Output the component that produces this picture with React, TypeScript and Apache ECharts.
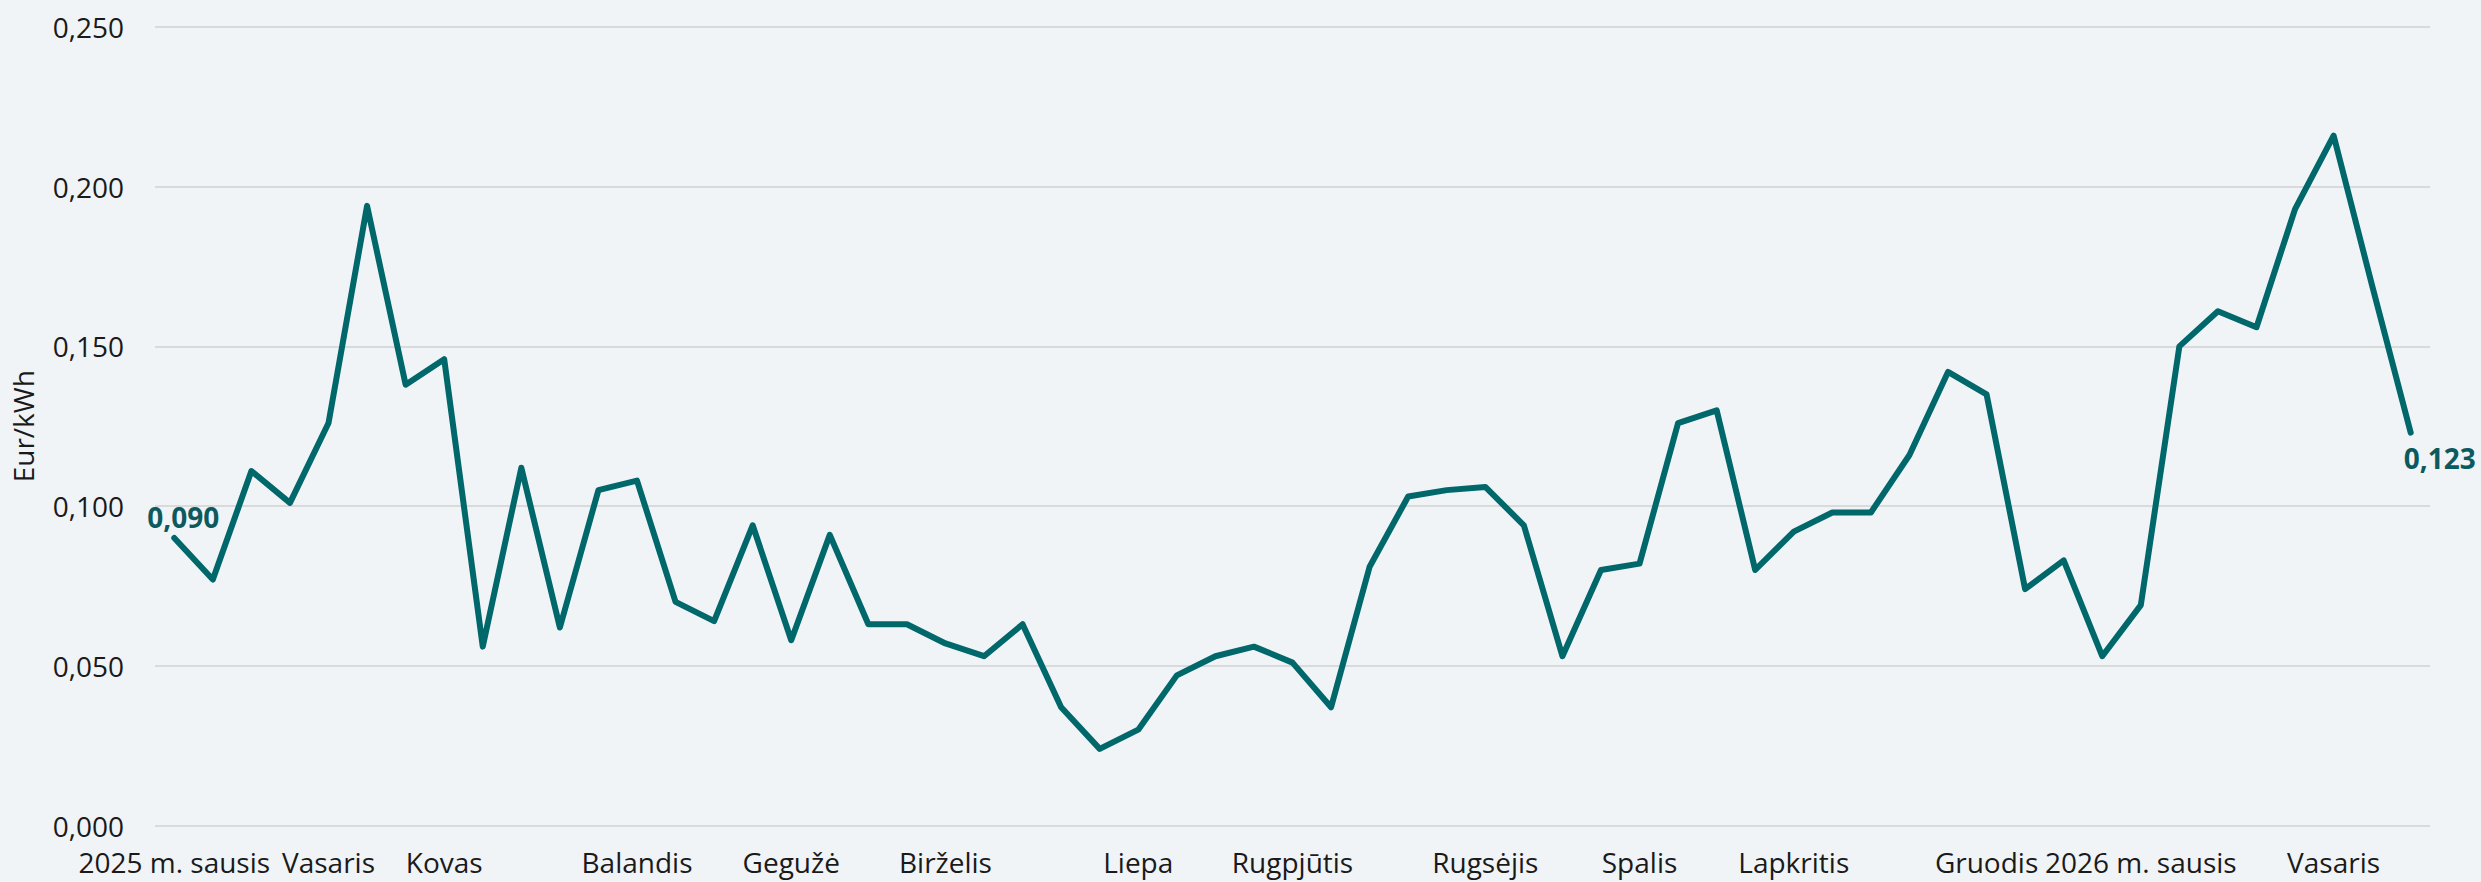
import React, { useEffect, useRef } from "react";
import * as echarts from "echarts";

// Weekly prices, 2025 m. sausis … 2026 m. vasaris (Eur/kWh)
const prices: number[] = [
  0.090, 0.077, 0.111, 0.101, 0.126, 0.194, 0.138, 0.146, 0.056, 0.112,
  0.062, 0.105, 0.108, 0.070, 0.064, 0.094, 0.058, 0.091, 0.063, 0.063,
  0.057, 0.053, 0.063, 0.037, 0.024, 0.030, 0.047, 0.053, 0.056, 0.051,
  0.037, 0.081, 0.103, 0.105, 0.106, 0.094, 0.053, 0.080, 0.082, 0.126,
  0.130, 0.080, 0.092, 0.098, 0.098, 0.116, 0.142, 0.135, 0.074, 0.083,
  0.053, 0.069, 0.150, 0.161, 0.156, 0.193, 0.216, 0.169, 0.123,
];

// Month names and the week index where each month's label sits
const monthLabels: string[] = [
  "2025 m. sausis", "Vasaris", "Kovas", "Balandis", "Gegužė", "Birželis",
  "Liepa", "Rugpjūtis", "Rugsėjis", "Spalis", "Lapkritis", "Gruodis",
  "2026 m. sausis", "Vasaris",
];
const monthFirstWeek: number[] = [0, 4, 7, 12, 16, 20, 25, 29, 34, 38, 42, 47, 51, 56];

const yTicks = { min: 0, max: 0.25, interval: 0.05 };

const FONT = "'Open Sans', 'Noto Sans', sans-serif";
const LINE = "#00676a";
const LABEL = "#0d5a5e";

export default function App() {
  const ref = useRef<HTMLDivElement>(null);
  useEffect(() => {
    document.body.style.margin = "0";
    if (!ref.current) return;
    const chart = echarts.init(ref.current, undefined, { renderer: "svg" });
    const categories = prices.map((_, i) => {
      const k = monthFirstWeek.indexOf(i);
      return k >= 0 ? monthLabels[k] : "";
    });
    const last = prices.length - 1;
    const data = prices.map((v, i) => {
      if (i === 0) {
        return {
          value: v,
          label: { show: true, position: "top", offset: [9, -2] },
        };
      }
      if (i === last) {
        return {
          value: v,
          label: { show: true, position: "bottom", offset: [29, 6] },
        };
      }
      return v;
    });
    chart.setOption({
      animation: false,
      backgroundColor: "#f0f4f7",
      grid: { left: 155, right: 51, top: 27, bottom: 56.5, containLabel: false },
      xAxis: {
        type: "category",
        data: categories,
        boundaryGap: true,
        axisLine: { show: false },
        axisTick: { show: false },
        axisLabel: {
          interval: (idx: number) => monthFirstWeek.indexOf(idx) >= 0,
          color: "#1a1a1a",
          fontFamily: FONT,
          fontSize: 28,
          margin: 22,
          hideOverlap: false,
        },
        splitLine: { show: false },
      },
      yAxis: {
        type: "value",
        min: yTicks.min,
        max: yTicks.max,
        interval: yTicks.interval,
        name: "Eur/kWh",
        nameLocation: "middle",
        nameRotate: 90,
        nameGap: 118,
        nameTextStyle: { color: "#1a1a1a", fontFamily: FONT, fontSize: 28 },
        axisLine: { show: false },
        axisTick: { show: false },
        axisLabel: {
          color: "#1a1a1a",
          fontFamily: FONT,
          fontSize: 28,
          margin: 31,
          formatter: (v: number) => v.toFixed(3).replace(".", ","),
        },
        splitLine: { lineStyle: { color: "#d9dadb", width: 2 } },
      },
      series: [
        {
          type: "line",
          data,
          showSymbol: true,
          symbol: "circle",
          symbolSize: 0.01,
          lineStyle: { color: LINE, width: 6, join: "round", cap: "round" },
          itemStyle: { color: LINE },
          label: {
            show: false,
            color: LABEL,
            fontFamily: FONT,
            fontSize: 28,
            fontWeight: "bold",
            formatter: (p: any) => Number(p.value).toFixed(3).replace(".", ","),
          },
        },
      ],
    });
    return () => chart.dispose();
  }, []);
  return (
    <div
      ref={ref}
      style={{ position: "absolute", left: 0, top: 0, width: 2481, height: 882 }}
    />
  );
}
